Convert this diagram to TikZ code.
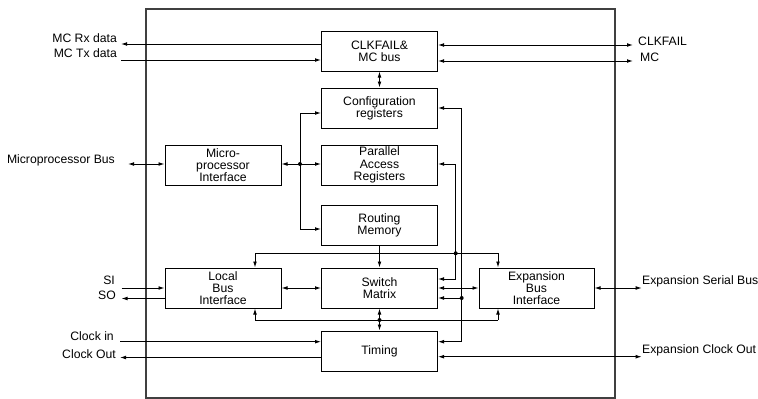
\documentclass[tikz,border=0pt]{standalone}
\usepackage{fontspec}
\setmainfont{Liberation Sans}
\usetikzlibrary{arrows.meta,calc}
\tikzset{
  blk/.style={draw, line width=1pt, minimum width=116pt, minimum height=40pt, inner sep=0pt, align=center, font=\fontsize{12.2}{12.2}\selectfont},
  lbl/.style={inner sep=0pt, font=\fontsize{12.2}{12.2}\selectfont},
  con/.style={line width=0.9pt, -{Latex[length=6pt,width=3.8pt]}},
  dcon/.style={line width=0.9pt, {Latex[length=6pt,width=3.8pt]}-{Latex[length=6pt,width=3.8pt]}},
  pl/.style={line width=0.9pt},
  dot/.style={circle, fill, inner sep=0pt, minimum size=4pt},
}
\begin{document}
\begin{tikzpicture}[x=1pt,y=-1pt]
\useasboundingbox (0,0) rectangle (758,399);
% outer frame
\draw[line width=1.1pt, black!75] (146,9) rectangle (615,398);

% blocks
\node[blk] (clk) at (379.5,51) {CLKFAIL\&\\MC bus};
\node[blk] (cfg) at (379.5,108) {Configuration\\registers};
\node[blk] (par) at (379.5,165) {Parallel\\Access\\Registers};
\node[blk] (rout) at (379.5,225.7) {Routing\\Memory};
\node[blk] (sw) at (379.5,288) {Switch\\Matrix};
\node[blk] (tim) at (379.5,351) {Timing};
\node[blk] (mpi) at (223,165) {Micro-\\processor\\Interface};
\node[blk] (lbi) at (223,288) {Local\\Bus\\Interface};
\node[blk, minimum width=115pt] (ebi) at (536.5,288) {Expansion\\Bus\\Interface};

% labels
\node[lbl, anchor=east] (lrx) at (117,38) {MC Rx data};
\node[lbl, anchor=east] (ltx) at (117,53) {MC Tx data};
\node[lbl, anchor=east] (lmpb) at (115,160) {Microprocessor Bus};
\node[lbl, anchor=east] (lsi) at (115,280) {SI};
\node[lbl, anchor=east] (lso) at (116,295.5) {SO};
\node[lbl, anchor=east] (lcin) at (114,336) {Clock in};
\node[lbl, anchor=east] (lcout) at (116,354) {Clock Out};
\node[lbl, anchor=west] (lclkf) at (638,41.5) {CLKFAIL};
\node[lbl, anchor=west] (lmc) at (640,57) {MC};
\node[lbl, anchor=west] (lesb) at (642,281) {Expansion Serial Bus};
\node[lbl, anchor=west] (leco) at (642,350) {Expansion Clock Out};

% free ends
\coordinate (rxe) at (121,44);
\coordinate (txe) at (121,60);
\coordinate (cfe) at (633,45);
\coordinate (mce) at (633,61);
\coordinate (mpe) at (128,164);
\coordinate (sie) at (121.5,288);
\coordinate (soe) at (121.5,298.5);
\coordinate (cie) at (120,341.7);
\coordinate (coe) at (120,357.5);
\coordinate (ese) at (641.7,288);
\coordinate (ece) at (641.7,356.7);

% top connections
\draw[con] (clk.west |- rxe) -- (rxe);
\draw[con] (txe) -- (clk.west |- txe);
\draw[dcon] (clk.east |- cfe) -- (cfe);
\draw[dcon] (clk.east |- mce) -- (mce);
\draw[dcon] (clk.south) -- (cfg.north);

% microprocessor
\draw[dcon] (mpe) -- (mpi.west |- mpe);
\coordinate (mj) at (300,164);
\draw[dcon] (mpi.east |- mj) -- (par.west |- mj);
\node[dot] (mjd) at (mj) {};
\coordinate (mt) at (300,113);
\coordinate (mb) at (300,229);
\draw[con] (mb) -- (mt) -- (cfg.west |- mt);
\draw[con] (mt) -- (mb) -- (rout.west |- mb);

% right-hand loops
\coordinate (ot) at (461.7,108);
\coordinate (ob) at (461.7,341.7);
\draw[dcon] (cfg.east |- ot) -- (ot) -- (ob) -- (tim.east |- ob);
\coordinate (oj) at (461.7,298);
\draw[con] (oj) -- (sw.east |- oj);
\node[dot] (ojd) at (oj) {};
\coordinate (it) at (455.7,164);
\coordinate (ib) at (455.7,279);
\draw[dcon] (par.east |- it) -- (it) -- (ib) -- (sw.east |- ib);

% upper bus
\coordinate (ubl) at (255,253.3);
\coordinate (ubr) at (498,253.3);
\draw[pl] (ubl) -- (ubr);
\draw[con] (ubl) -- (lbi.north -| ubl);
\draw[con] (ubr) -- (ebi.north -| ubr);
\draw[con] (rout.south) -- (sw.north);
\node[dot] (ubd) at (455.7,253.3) {};

% lower bus
\coordinate (lbl) at (255,320);
\coordinate (lbr) at (498,320);
\draw[pl] (lbl) -- (lbr);
\draw[con] (lbl) -- (lbi.south -| lbl);
\draw[con] (lbr) -- (ebi.south -| lbr);
\draw[dcon] (sw.south) -- (tim.north);
\node[dot] (lbd) at (379.5,320) {};

% switch horizontal
\draw[dcon] (lbi.east) -- (sw.west);
\draw[dcon] (sw.east) -- (ebi.west);
\draw[dcon] (ebi.east) -- (ese);

% local bus serial
\draw[con] (sie) -- (lbi.west |- sie);
\draw[con] (lbi.west |- soe) -- (soe);

% timing
\draw[con] (cie) -- (tim.west |- cie);
\draw[con] (tim.west |- coe) -- (coe);
\draw[dcon] (tim.east |- ece) -- (ece);
\end{tikzpicture}
\end{document}
